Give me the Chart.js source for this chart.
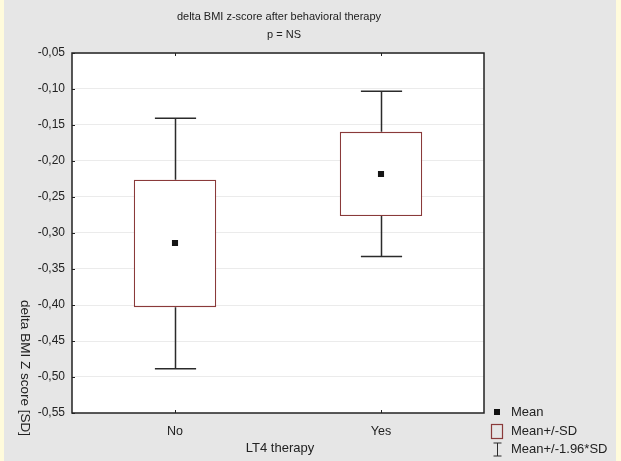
<!DOCTYPE html>
<html>
<head>
<meta charset="utf-8">
<script src="https://cdn.jsdelivr.net/npm/chart.js@4.4.1/dist/chart.umd.min.js"></script>
<style>
  html, body { margin: 0; padding: 0; background: #e6e6e6; }
  #wrap { width: 621px; height: 461px; }
</style>
</head>
<body>
<div id="wrap"><canvas id="c" width="621" height="461"></canvas></div>
<script>
// ---- data ----
const categories = ['No', 'Yes'];
const means = [-0.314, -0.218];
const sdLow = [-0.403, -0.2765];
const sdHigh = [-0.226, -0.1595];
const ciLow = [-0.4885, -0.3325];
const ciHigh = [-0.1405, -0.1032];
const titleLines = ['delta BMI z-score after behavioral therapy', 'p = NS'];
const xTitle = 'LT4 therapy';
const yTitle = 'delta BMI Z score [SD]';
const legendLabels = ['Mean', 'Mean+/-SD', 'Mean+/-1.96*SD'];
const yMin = -0.55, yMax = -0.05, yStep = 0.05;

const FONT = '"Liberation Sans", Arial, sans-serif';
const BOX_COLOR = '#8a3a3a';
const LINE_COLOR = '#2b2b2b';

Chart.defaults.font.family = FONT;
Chart.defaults.font.size = 12;
Chart.defaults.color = '#222';

const background = {
  id: 'background',
  beforeDraw(chart) {
    const c = chart.ctx, w = chart.width, h = chart.height;
    c.save();
    c.fillStyle = '#fffbdc';
    c.fillRect(0, 0, w, h);
    c.fillStyle = '#e6e6e6';
    c.fillRect(4, 0, w - 9, h);
    const a = chart.chartArea;
    c.fillStyle = '#ffffff';
    c.fillRect(a.left, a.top, a.right - a.left, a.bottom - a.top);
    c.restore();
  }
};

const whiskers = {
  id: 'whiskers',
  afterDatasetsDraw(chart) {
    const c = chart.ctx;
    const x = chart.scales.x, y = chart.scales.y;
    const a = chart.chartArea;
    const meta = chart.getDatasetMeta(1);
    c.save();
    c.strokeStyle = LINE_COLOR;
    c.lineWidth = 1.5;
    categories.forEach((cat, i) => {
      const px = Math.round(x.getPixelForValue(i)) + 0.5;
      const bw = meta.data[i].width;
      const half = bw / 4;
      const yHi = y.getPixelForValue(ciHigh[i]);
      const yLo = y.getPixelForValue(ciLow[i]);
      const yBt = y.getPixelForValue(sdHigh[i]);
      const yBb = y.getPixelForValue(sdLow[i]);
      c.beginPath();
      c.moveTo(px, yHi); c.lineTo(px, yBt);
      c.moveTo(px, yBb); c.lineTo(px, yLo);
      c.moveTo(px - half, yHi); c.lineTo(px + half, yHi);
      c.moveTo(px - half, yLo); c.lineTo(px + half, yLo);
      c.stroke();
    });
    c.strokeStyle = '#222';
    c.lineWidth = 1.5;
    c.strokeRect(a.left, a.top, a.right - a.left, a.bottom - a.top);
    c.lineWidth = 1;
    c.beginPath();
    y.ticks.forEach(t => {
      const py = Math.round(y.getPixelForValue(t.value)) + 0.5;
      c.moveTo(a.left, py); c.lineTo(a.left + 3, py);
    });
    categories.forEach((cat, i) => {
      const px = Math.round(x.getPixelForValue(i)) + 0.5;
      c.moveTo(px, a.top); c.lineTo(px, a.top + 3);
      c.moveTo(px, a.bottom); c.lineTo(px, a.bottom - 3);
    });
    c.stroke();
    c.restore();
  }
};

const texts = {
  id: 'texts',
  afterDraw(chart) {
    const c = chart.ctx;
    const a = chart.chartArea;
    const cx = (a.left + a.right) / 2;
    c.save();
    c.fillStyle = '#222';
    c.textAlign = 'center';
    c.textBaseline = 'middle';
    c.font = '11px ' + FONT;
    c.fillText(titleLines[0], cx + 1, 17);
    c.fillText(titleLines[1], cx + 6, 35);
    c.font = '13px ' + FONT;
    c.fillText(xTitle, cx + 2, 448);
    c.save();
    c.translate(25, 368);
    c.rotate(Math.PI / 2);
    c.font = '13.5px ' + FONT;
    c.fillText(yTitle, 0, 0);
    c.restore();
    // legend
    const ix = 497, tx = 511;
    const rows = [412, 431, 449];
    c.font = '13px ' + FONT;
    c.textAlign = 'left';
    c.fillStyle = '#111';
    c.fillRect(ix - 3, rows[0] - 3, 6, 6);
    c.strokeStyle = BOX_COLOR;
    c.lineWidth = 1.2;
    c.strokeRect(ix - 5.5, rows[1] - 6.5, 11, 14);
    c.strokeStyle = LINE_COLOR;
    c.lineWidth = 1;
    c.beginPath();
    c.moveTo(ix + 0.5, rows[2] - 6); c.lineTo(ix + 0.5, rows[2] + 7);
    c.moveTo(ix - 3.5, rows[2] - 6); c.lineTo(ix + 4.5, rows[2] - 6);
    c.moveTo(ix - 3.5, rows[2] + 7); c.lineTo(ix + 4.5, rows[2] + 7);
    c.stroke();
    c.fillStyle = '#222';
    legendLabels.forEach((l, i) => c.fillText(l, tx, rows[i]));
    c.restore();
  }
};

new Chart(document.getElementById('c'), {
  data: {
    labels: categories,
    datasets: [
      {
        type: 'line',
        label: 'Mean',
        data: means,
        showLine: false,
        pointStyle: 'rect',
        pointRadius: 4.3,
        pointBackgroundColor: '#151515',
        pointBorderWidth: 0,
        order: 0
      },
      {
        type: 'bar',
        label: 'Mean+/-SD',
        data: categories.map((c, i) => [sdLow[i], sdHigh[i]]),
        backgroundColor: '#ffffff',
        borderColor: BOX_COLOR,
        borderWidth: 1.3,
        borderSkipped: false,
        barPercentage: 0.4,
        categoryPercentage: 1.0,
        order: 1
      }
    ]
  },
  options: {
    responsive: false,
    animation: false,
    devicePixelRatio: 1,
    layout: { padding: { left: 0, right: 137, top: 53, bottom: 0 } },
    plugins: { legend: { display: false }, tooltip: { enabled: false }, title: { display: false } },
    scales: {
      x: {
        type: 'category',
        offset: true,
        grid: { display: false, drawTicks: false },
        border: { display: false },
        ticks: { padding: 11, color: '#222', font: { size: 12.5 } },
        afterFit(s) { s.height = 48; }
      },
      y: {
        type: 'linear',
        min: yMin,
        max: yMax,
        grid: { color: '#ebebeb', lineWidth: 1, drawTicks: false },
        border: { display: false },
        ticks: {
          stepSize: yStep,
          padding: 7,
          color: '#222',
          font: { size: 12 },
          callback: v => v.toFixed(2).replace('.', ',')
        },
        afterFit(s) { s.width = 72; }
      }
    }
  },
  plugins: [background, whiskers, texts]
});
</script>
</body>
</html>
